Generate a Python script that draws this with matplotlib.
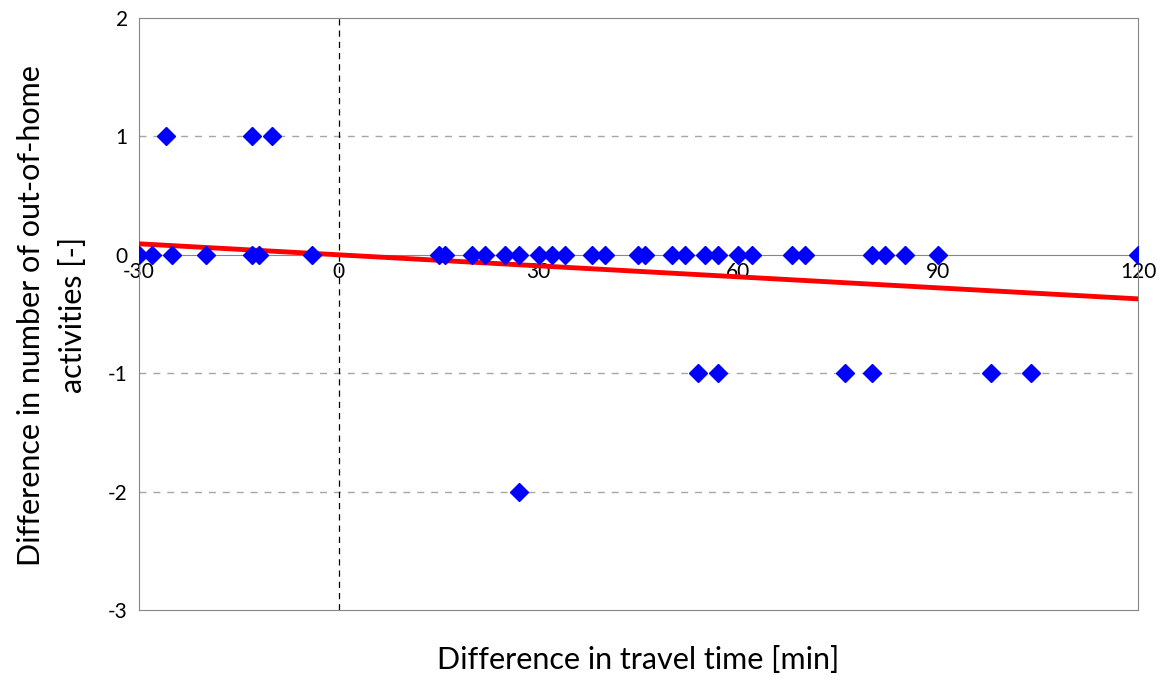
import numpy as np
import matplotlib
matplotlib.use('Agg')
import matplotlib.pyplot as plt

# travel time difference [min] and activity difference [-]
x_zero = [-30, -28, -25, -20, -13, -12, -4, 15, 16, 20, 22, 25, 27, 30, 32, 34,
          38, 40, 45, 46, 50, 52, 55, 57, 60, 62, 68, 70, 80, 82, 85, 90, 120]
x_plus1 = [-26, -13, -10]
x_minus1 = [54, 57, 76, 80, 98, 104]
x_minus2 = [27]

# linear trendline, end points
trend_x = [-30, 120]
trend_y = [0.093, -0.372]

x_ticks = [-30, 0, 30, 60, 90, 120]
y_ticks = [-3, -2, -1, 0, 1, 2]

xs = x_zero + x_plus1 + x_minus1 + x_minus2
ys = [0] * len(x_zero) + [1] * len(x_plus1) + [-1] * len(x_minus1) + [-2] * len(x_minus2)

plt.rcParams['font.family'] = ['Lato', 'DejaVu Sans']
plt.rcParams['axes.unicode_minus'] = False

fig = plt.figure(figsize=(11.65, 6.8), dpi=100)
ax = fig.add_axes([0.1193, 0.1029, 0.8575, 0.8706])

ax.set_xlim(-30, 120)
ax.set_ylim(-3, 2)

# grid
for yv in [1, -1, -2]:
    ax.axhline(yv, color='#a6a6a6', lw=1, ls=(0, (5, 5)), zorder=1)
ax.axvline(0, color='black', lw=0.9, ls=(0, (5, 4)), zorder=1)

ax.plot(trend_x, trend_y, color='red', lw=3.5, zorder=3)
ax.plot(xs, ys, ls='none', marker='D', ms=9, color='#0000ff', mec='#0000ff', zorder=4)

for s in ax.spines.values():
    s.set_color('#868686')
ax.set_xticks(x_ticks)
ax.tick_params(axis='x', length=0, labelbottom=False)
ax.set_yticks(y_ticks)
ax.tick_params(axis='y', length=0, labelsize=15, pad=8)

# x axis crossing at y = 0 (axes fraction 0.6)
sec = ax.secondary_xaxis(0.6)
sec.set_alignment('bottom')
sec.set_xticks(x_ticks)
sec.tick_params(length=0, labelsize=15, pad=5)
sec.spines['bottom'].set_color('#868686')

ax.set_xlabel('Difference in travel time [min]', fontsize=22, labelpad=26)
ax.set_ylabel('Difference in number of out-of-home\nactivities [-]', fontsize=22,
              linespacing=1.6)
ax.yaxis.set_label_coords(-0.052, 0.498)

plt.savefig('out.png', dpi=100)
